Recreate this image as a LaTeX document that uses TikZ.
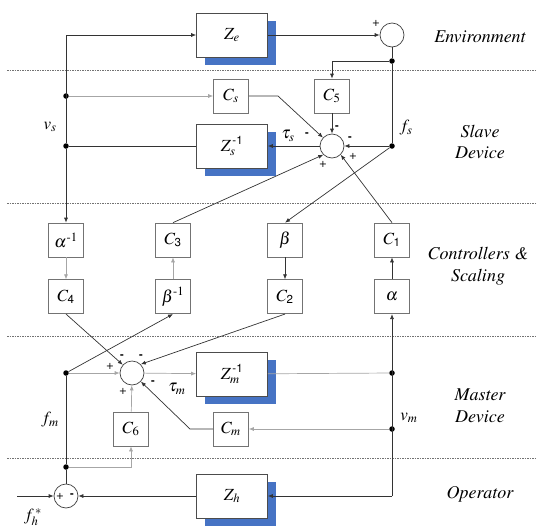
\documentclass[tikz,border=0pt]{standalone}
\usepackage[T1]{fontenc}
\usepackage{amsmath}
\usepackage{mathptmx}
\usepackage[scaled=0.92]{helvet}
\usepackage{xcolor}
\usepackage{tikz}
\usetikzlibrary{positioning, arrows.meta, shadows}

\definecolor{zblue}{RGB}{70,115,196}

\begin{document}
\begin{tikzpicture}[x=1pt, y=-1pt, node distance=22pt,
        >={Latex[length=5pt,width=4pt]},
        font=\fontsize{17}{19}\selectfont,
        wire/.style={draw=black!80, line width=0.7pt},
        light/.style={draw=black!35, line width=0.7pt},
        sep/.style={draw=black!55, line width=0.6pt, dash pattern=on 1.5pt off 1pt},
        zbox/.style={draw=black!70, fill=white, line width=0.7pt, minimum width=71pt, minimum height=44pt,
            general shadow={shadow xshift=8pt, shadow yshift=-8pt, fill=zblue}},
        cbox/.style={draw=black!55, fill=white, line width=0.7pt, minimum width=35pt, minimum height=34pt},
        sum/.style={circle, draw=black!75, fill=white, line width=0.7pt, minimum size=24pt, inner sep=0pt},
        dot/.style={circle, fill=black, inner sep=0pt, minimum size=5.5pt},
        lbl/.style={inner sep=1pt},
        sign/.style={font=\fontsize{12}{13}\selectfont, inner sep=0pt},
        region/.style={font=\fontsize{18}{21.5}\selectfont\itshape, align=center}]
    \useasboundingbox (0,0) rectangle (536,528);

    % layer borders
    \foreach \y in {70,203,336,458}
        \draw[sep] (7,\y) -- (536,\y);

    % environment
    \node[zbox] (Ze) at (232,35) {$Z_e$};
    \node[sum] (sumE) at (392,35) {};
    \node[dot] (fsJ) at (392,61) {};

    % slave device
    \node[cbox] (Cs) at (231,96) {$C_s$};
    \node[cbox] (C5) at (332,96) {$C_5$};
    \node[zbox] (Zs) at (232,146) {$Z_s^{\,\text{\sffamily -1}}$};
    \node[sum] (sumS) at (332,146) {};
    \node[dot] (fsdot) at (392,146) {};
    \node[dot] (vsA) at (66,96) {};
    \node[dot] (vsB) at (66,146) {};
    \coordinate (CsBend) at (278,96);

    % controllers and scaling
    \node[cbox] (ainv) at (66,240) {$\alpha^{\text{-1}}$};
    \node[cbox] (C3) at (173,240) {$C_{\text{\sffamily 3}}$};
    \node[cbox] (beta) at (285,240) {$\beta$};
    \node[cbox] (C1) at (392,240) {$C_{\text{\sffamily 1}}$};
    \node[cbox] (C4) [below=of ainv] {$C_{\text{\sffamily 4}}$};
    \node[cbox] (binv) [below=of C3] {$\beta^{\text{-1}}$};
    \node[cbox] (C2) [below=of beta] {$C_{\text{\sffamily 2}}$};
    \node[cbox] (alpha) [below=of C1] {$\alpha$};

    % master device
    \node[sum] (sumM) at (132,373) {};
    \node[dot] (fmA) at (66,373) {};
    \node[zbox] (Zm) at (232,374) {$Z_m^{\,\text{\sffamily -1}}$};
    \node[dot] (vmA) at (392,373) {};
    \node[cbox] (C6) at (131,429) {$C_6$};
    \node[cbox] (Cm) at (231,429) {$C_m$};
    \node[dot] (vmB) at (392,429) {};
    \coordinate (CmBend) at (190,429);

    % operator
    \node[dot] (fmB) at (66,467) {};
    \node[sum] (sumH) at (66,496) {};
    \node[zbox] (Zh) at (232,496) {$Z_h$};
    \coordinate (vmC) at (392,496);
    \coordinate (fhin) at (17,496);

    % signals
    \node[lbl] (vs) at (50,127) {$v_s$};
    \node[lbl] (fs) at (406,128) {$f_s$};
    \node[lbl] (taus) at (288,136) {$\tau_s$};
    \node[lbl] (taum) at (177,389) {$\tau_m$};
    \node[lbl] (fm) at (50,420) {$f_m$};
    \node[lbl] (vm) at (409,418) {$v_m$};
    \node[lbl] (fh) at (33,517) {$f_h^{\,*}$};

    % signs at the junctions
    \node[sign] at (376,23) {+};
    \node[sign] at (337,128) {\textsf{\textbf{-}}};
    \node[sign] at (307,135) {\textsf{\textbf{-}}};
    \node[sign] at (350,139) {\textsf{\textbf{-}}};
    \node[sign] at (353,156) {+};
    \node[sign] at (323,164) {+};
    \node[sign] at (110,366) {+};
    \node[sign] at (122,357) {\textsf{\textbf{-}}};
    \node[sign] at (141,357) {\textsf{\textbf{-}}};
    \node[sign] at (153,383) {\textsf{\textbf{-}}};
    \node[sign] at (123,391) {+};
    \node[sign] at (60,496) {+};
    \node[sign] at (72,496) {\textsf{\textbf{-}}};

    % layers
    \node[region] at (480,37) {Environment};
    \node[region] at (480,142) {Slave\\Device};
    \node[region] at (478,266) {Controllers \&\\Scaling};
    \node[region] at (480,406) {Master\\Device};
    \node[region] at (480,494) {Operator};

    % slave side
    \draw[wire,->] (vsB) |- (Ze);
    \draw[wire,->] (vsB) -- (ainv);
    \draw[wire,->] (Ze) -- (sumE);
    \draw[wire] (sumE) -- (fsJ) -- (fsdot);
    \draw[wire,->] (fsJ) -| (C5);
    \draw[wire,->] (C5) -- (sumS);
    \draw[wire,->] (fsdot) -- (sumS);
    \draw[wire,->] (sumS) -- (Zs);
    \draw[wire] (Zs) -- (vsB);
    \draw[light,->] (vsA) -- (Cs);
    \draw[wire,->] (Cs) -- (CsBend) -- (sumS);
    \draw[wire,->] (fsdot) -- (beta.north);
    \draw[wire,->] (C3.north) -- (sumS.south west);
    \draw[wire,->] (C1.north) -- (sumS.south east);

    % controllers
    \draw[light,->] (ainv) -- (C4);
    \draw[light,->] (binv) -- (C3);
    \draw[wire,->] (beta) -- (C2);
    \draw[wire,->] (alpha) -- (C1);

    % master side
    \draw[wire,->] (C4.south) -- (sumM);
    \draw[wire,->] (C2.south) -- (sumM.north east);
    \draw[wire,->] (fmA) -- (binv.south);
    \draw[light,->] (fmA) -- (sumM);
    \draw[light,->] (sumM) -- (Zm);
    \draw[light] (Zm) -- (vmA);
    \draw[light,->] (vmB) -- (Cm);
    \draw[wire,->] (Cm) -- (CmBend) -- (sumM);
    \draw[light,->] (C6) -- (sumM);
    \draw[light,->] (fmB) -| (C6);
    \draw[wire] (sumH) -- (fmB) -- (fmA);
    \draw[wire,->] (vmC) -- (alpha);
    \draw[wire,->] (vmC) -- (Zh);
    \draw[wire,->] (Zh) -- (sumH);
    \draw[wire,->] (fhin) -- (sumH);
\end{tikzpicture}
\end{document}
